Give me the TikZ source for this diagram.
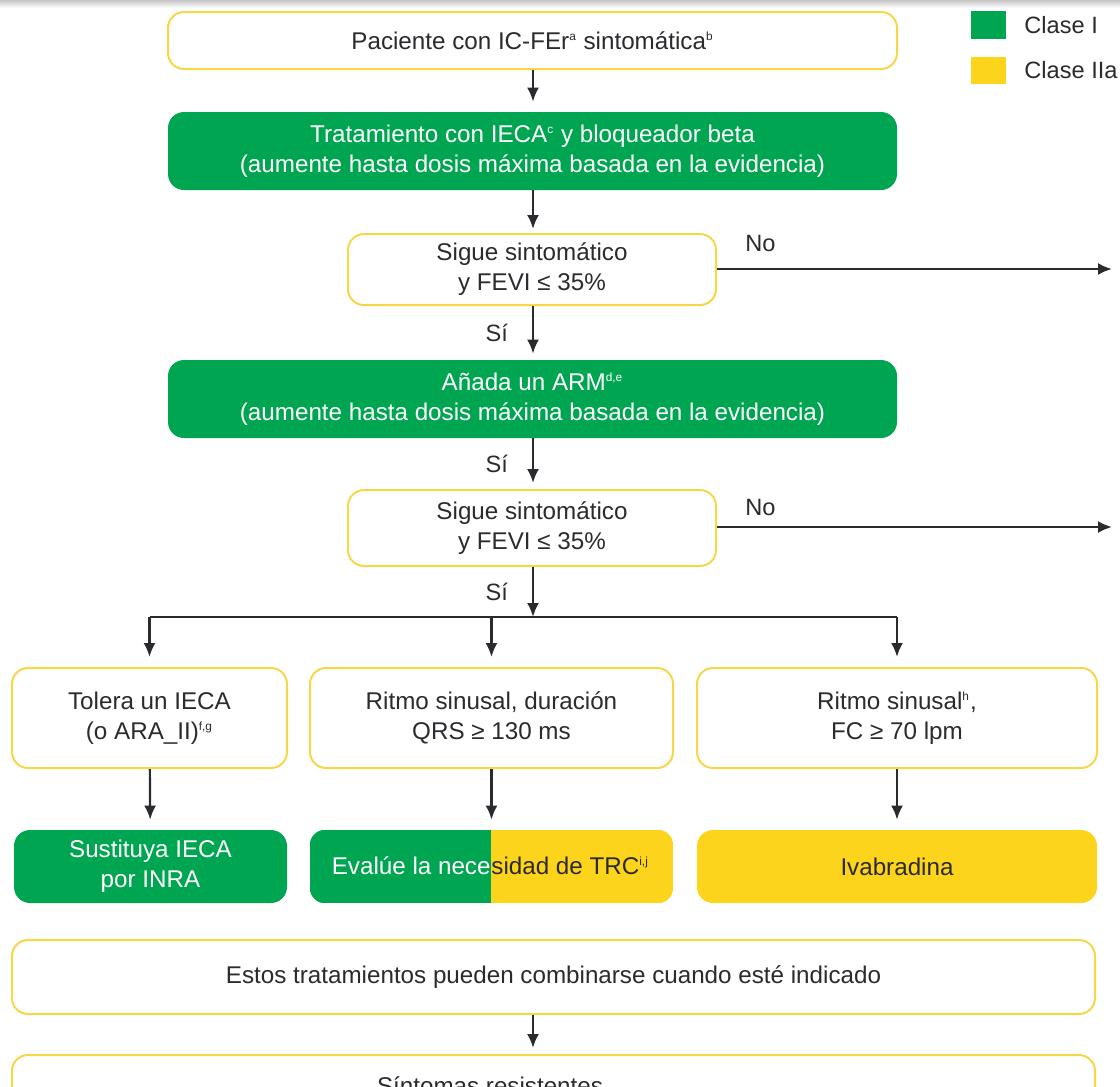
\documentclass[tikz,border=0pt]{standalone}
\usepackage{fontspec}
\setmainfont{Liberation Sans}
\usetikzlibrary{positioning, arrows.meta}

\definecolor{claseI}{HTML}{00A551}
\definecolor{claseIIa}{HTML}{FDD41C}
\definecolor{bordeamar}{HTML}{F8D649}
\definecolor{texto}{HTML}{2B2A2E}

\newcommand{\nota}[1]{\textsuperscript{\scalebox{0.7}{#1}}}

\tikzset{
  caja/.style={rounded corners=8pt, align=center, text=texto, inner sep=2pt,
    font=\fontsize{12.1}{15}\selectfont},
  blanca/.style={caja, draw=bordeamar, line width=1pt, fill=white},
  verde/.style={caja, fill=claseI, text=white},
  amarilla/.style={caja, fill=claseIIa},
  flecha/.style={-{Latex[length=7pt,width=6pt]}, line width=1.1pt, draw=texto},
  rama/.style={line width=0.7pt, draw=texto},
  etiq/.style={text=texto, font=\fontsize{11.8}{13}\selectfont, inner sep=2pt}
}

\begin{document}
\begin{tikzpicture}[x=0.5pt, y=-0.5pt]
    \useasboundingbox (0,0) rectangle (1120,1087);
    \clip (0,0) rectangle (1120,1087);

    % top shadow of the screenshot
    \shade[top color=gray!45, bottom color=white] (0,0) rectangle (1120,8);

    % legend
    \fill[claseI] (971,11) rectangle (1006,39);
    \node[etiq, anchor=west] (leyI) at (1020,25) {Clase I};
    \fill[claseIIa] (971,57) rectangle (1006,84);
    \node[etiq, anchor=west] (leyIIa) at (1020,70) {Clase IIa};

    % main column
    \node[blanca, minimum width=364.5pt, minimum height=28.5pt] (pac) at (532.5,40.5)
        {Paciente con IC-FEr\nota{a} sintomática\nota{b}};
    \node[verde, minimum width=364.5pt, minimum height=39pt] (trat) at (532.5,151)
        {Tratamiento con IECA\nota{c} y bloqueador beta\\(aumente hasta dosis máxima basada en la evidencia)};
    \node[blanca, minimum width=184pt, minimum height=35.5pt] (sigue1) at (532,269.5)
        {Sigue sintomático\\y FEVI ≤ 35\%};
    \node[verde, minimum width=364.5pt, minimum height=39pt] (arm) at (532.5,399)
        {Añada un ARM\nota{d,e}\\(aumente hasta dosis máxima basada en la evidencia)};
    \node[blanca, minimum width=184pt, minimum height=38pt] (sigue2) at (532,528)
        {Sigue sintomático\\y FEVI ≤ 35\%};

    % three branches
    \node[blanca, minimum width=137.5pt, minimum height=50pt] (tolera) at (149.5,718)
        {Tolera un IECA\\(o ARA\_II)\nota{f,g}};
    \node[blanca, minimum width=181.5pt, minimum height=50pt] (ritmo) at (491.5,718)
        {Ritmo sinusal, duración\\QRS ≥ 130 ms};
    \node[blanca, minimum width=200pt, minimum height=50pt] (fc) at (897,718)
        {Ritmo sinusal\nota{h},\\FC ≥ 70 lpm};

    \node[verde, minimum width=136.5pt, minimum height=36.5pt] (sust) at (150.5,866.5)
        {Sustituya IECA\\por INRA};
    \node[caja, minimum width=181.5pt, minimum height=36.5pt] (trc) at (491.5,866.5) {};
    \begin{scope}
        \clip[rounded corners=8pt] (trc.north west) rectangle (trc.south east);
        \fill[claseI] (trc.north west) rectangle (491,903);
        \fill[claseIIa] (491,830) rectangle (trc.south east);
    \end{scope}
    \node[etiq, anchor=base east, inner sep=0pt, text=white, font=\fontsize{12.1}{15}\selectfont]
        (trcA) at (491,874) {Evalúe la nece};
    \node[etiq, anchor=base west, inner sep=0pt, font=\fontsize{12.1}{15}\selectfont]
        (trcB) at (491,874) {sidad de TRC\nota{i,j}};
    \node[amarilla, minimum width=200pt, minimum height=36.5pt] (ivab) at (897,866.5)
        {Ivabradina};

    \node[blanca, minimum width=541.5pt, minimum height=37pt] (comb) at (553.5,977)
        {Estos tratamientos pueden combinarse cuando esté indicado};
    \node[blanca, minimum width=541.5pt, minimum height=50pt, anchor=north] (resist) at (553.5,1054) {};
    \node[etiq, anchor=base, font=\fontsize{12.1}{15}\selectfont] (resistT) at (490,1094)
        {Síntomas resistentes};

    % connectors
    \coordinate (no1) at (1112,269);
    \coordinate (no2) at (1112,527);
    \coordinate (cruce) at (533,617);

    \draw[flecha, shorten >=5pt] (pac.south -| cruce) -- (trat.north -| cruce);
    \draw[flecha, shorten >=2pt] (trat.south -| cruce) -- (sigue1.north -| cruce);
    \draw[flecha] (sigue1.east |- no1) -- (no1)
        node[etiq, pos=0.11, above=6pt] {No};
    \draw[flecha, shorten >=3pt] (sigue1.south -| cruce) -- (arm.north -| cruce)
        node[etiq, midway, left=10pt] {Sí};
    \draw[flecha, shorten >=3pt] (arm.south -| cruce) -- (sigue2.north -| cruce)
        node[etiq, midway, left=10pt] {Sí};
    \draw[flecha] (sigue2.east |- no2) -- (no2)
        node[etiq, pos=0.11, above=3pt] {No};
    \draw[flecha] (sigue2.south -| cruce) -- (cruce)
        node[etiq, midway, left=10pt] {Sí};
    \draw[rama] (cruce -| tolera) -- (cruce -| fc);
    \foreach \b in {tolera, ritmo, fc}
        \draw[flecha, shorten >=5pt] (cruce -| \b) -- (\b.north);
    \draw[flecha, shorten >=5pt] (tolera) -- (sust);
    \draw[flecha, shorten >=5pt] (ritmo) -- (trc);
    \draw[flecha, shorten >=5pt] (fc) -- (ivab);
    \draw[flecha, shorten >=3pt] (comb.south -| cruce) -- (resist.north -| cruce);
\end{tikzpicture}
\end{document}
